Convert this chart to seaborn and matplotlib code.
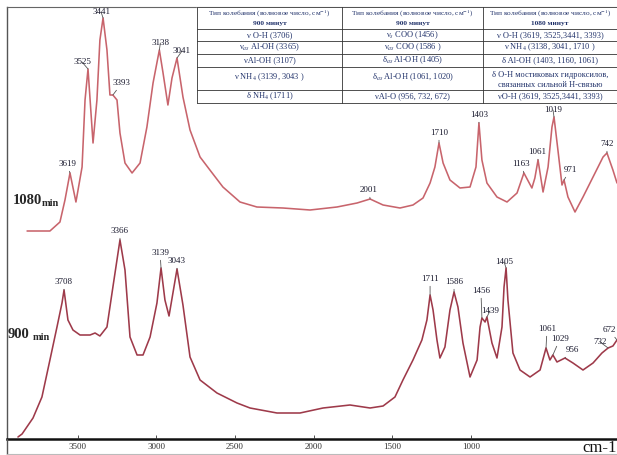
import numpy as np
import matplotlib
matplotlib.use('Agg')
import matplotlib.pyplot as plt
import seaborn as sns

# 1080 min trace (x = position on the spectrum axis, y = intensity, a.u.)
wn_1080 = [3850, 3727, 3673, 3646, 3619, 3587, 3554, 3538, 3522, 3495,
           3474, 3458, 3441, 3420, 3404, 3388, 3366, 3350, 3323, 3285,
           3242, 3205, 3172, 3138, 3119, 3092, 3070, 3043, 3011, 2973,
           2919, 2866, 2796, 2704, 2613, 2473, 2327, 2182, 2074, 2004,
           1934, 1843, 1773, 1719, 1681, 1655, 1633, 1611, 1574, 1520,
           1466, 1434, 1418, 1402, 1375, 1321, 1267, 1213, 1176, 1133,
           1117, 1100, 1073, 1046, 1025, 1014, 993, 971, 960, 939,
           901, 858, 804, 750, 729, 697, 675]
int_1080 = [208, 208, 217, 239, 266, 237, 272, 339, 370, 296,
            339, 399, 421, 389, 344, 344, 339, 306, 276, 266,
            276, 312, 356, 389, 367, 334, 361, 381, 342, 309,
            282, 269, 252, 237, 232, 231, 229, 232, 236, 240,
            234, 231, 234, 241, 256, 272, 296, 276, 259, 251,
            252, 272, 316, 279, 256, 242, 237, 246, 266, 251,
            261, 279, 247, 272, 312, 322, 289, 254, 259, 242,
            227, 242, 262, 282, 286, 269, 256]

# 900 min trace
wn_900 = [3899, 3877, 3818, 3770, 3727, 3689, 3662, 3651, 3630, 3603,
          3565, 3511, 3484, 3458, 3420, 3388, 3350, 3323, 3296, 3258,
          3226, 3188, 3151, 3129, 3108, 3086, 3043, 3011, 2973, 2919,
          2828, 2720, 2650, 2505, 2381, 2257, 2112, 2004, 1934, 1870,
          1827, 1773, 1725, 1698, 1681, 1665, 1644, 1628, 1601, 1574,
          1552, 1531, 1504, 1466, 1428, 1412, 1402, 1385, 1375, 1348,
          1321, 1294, 1283, 1272, 1262, 1235, 1197, 1143, 1089, 1057,
          1036, 1020, 998, 955, 912, 858, 804, 756, 723, 697, 675]
int_900 = [2, 5, 21, 42, 79, 112, 136, 149, 119, 109,
           104, 104, 106, 103, 112, 152, 199, 169, 102, 84,
           84, 102, 136, 171, 139, 123, 170, 134, 82, 59,
           46, 36, 31, 26, 26, 31, 34, 31, 33, 42,
           59, 79, 99, 119, 144, 129, 99, 81, 92, 129,
           147, 132, 96, 62, 79, 112, 121, 117, 122, 96,
           81, 112, 152, 171, 139, 86, 69, 62, 69, 91,
           79, 84, 77, 81, 76, 69, 76, 86, 91, 93, 99]

peaks_1080 = ["3619", "3525", "3441", "3393", "3138", "3041", "2001",
              "1710", "1403", "1163", "1061", "1019", "971", "742"]
peak_pos_1080 = [3619, 3522, 3441, 3388, 3138, 3043, 2004,
                 1633, 1418, 1176, 1100, 1014, 960, 729]
peaks_900 = ["3708", "3366", "3139", "3043", "1711", "1586", "1456",
             "1439", "1405", "1061", "1029", "956", "732", "672"]
peak_pos_900 = [3651, 3350, 3129, 3043, 1681, 1552, 1402,
                1375, 1272, 1057, 1020, 955, 723, 675]

tick_vals = [3500, 3000, 2500, 2000, 1500, 1000]

tbl_head = ["900 минут", "900 минут", "1080 минут"]
tbl_col1 = ["ν O-H (3706)", r"ν$_{as}$ Al-OH (3365)", "νAl-OH (3107)",
            r"ν NH$_4$ (3139, 3043 )", r"δ NH$_4$ (1711)"]
tbl_col2 = [r"ν$_s$ COO (1456)", r"ν$_{as}$ COO (1586 )", r"δ$_{as}$ Al-OH (1405)",
            r"δ$_{as}$ Al-OH (1061, 1020)", "νAl-O (956, 732, 672)"]
tbl_col3 = ["ν O-H (3619, 3525,3441, 3393)", r"ν NH$_4$ (3138, 3041, 1710 )",
            "δ Al-OH (1403, 1160, 1061)",
            "δ O-H мостиковых гидроксилов,\nсвязанных сильной Н-связью",
            "νO-H (3619, 3525,3441, 3393)"]

# label offsets in pixels (dx, dy)
off_1080 = [(-3, 9), (-6, 7), (-2, 6), (9, 12), (1, 7), (5, 7), (-1, 9),
            (0, 10), (0, 8), (-3, 9), (-1, 8), (-1, 7), (6, 10), (0, 9)]
off_900 = [(-1, 8), (0, 9), (-1, 15), (0, 8), (0, 16), (0, 10), (-1, 27),
           (3, 6), (-2, 6), (1, 19), (7, 16), (7, 8), (-8, 6), (-8, 10)]

sns.set_theme(style='white')
plt.rcParams['font.family'] = ['Liberation Serif', 'DejaVu Serif']
plt.rcParams['mathtext.fontset'] = 'stix'

W, H = 617, 455
fig = plt.figure(figsize=(W / 100, H / 100), dpi=100)
fig.patch.set_facecolor('white')

ax = fig.add_axes([7 / W, (H - 439) / H, 610 / W, 432 / H])
ax.set_facecolor('white')
sns.lineplot(x=wn_1080, y=int_1080, sort=False, estimator=None, ax=ax,
             color='#c8646c', lw=1.15)
sns.lineplot(x=wn_900, y=int_900, sort=False, estimator=None, ax=ax,
             color='#9e3a4a', lw=1.15)
ax.set_xlim(3958, 675)
ax.set_ylim(0, 432)
ax.set_xticks([])
ax.set_yticks([])
ax.set_xlabel('')
ax.set_ylabel('')
ax.spines['right'].set_visible(False)
ax.spines['left'].set_color('#555555')
ax.spines['left'].set_linewidth(1.0)
ax.spines['top'].set_color('#666666')
ax.spines['top'].set_linewidth(0.8)
ax.spines['bottom'].set_color('#111111')
ax.spines['bottom'].set_linewidth(1.8)


def label_peaks(names, pos, offs, wn, inten):
    xs = np.array(wn)[::-1]
    ys = np.array(inten)[::-1]
    for name, p, (dx, dy) in zip(names, pos, offs):
        yy = np.interp(p, xs, ys)
        ax.annotate(name, xy=(p, yy), xytext=(dx, dy), textcoords='offset pixels',
                    ha='center', va='center', fontsize=6.5, color='#1a1a2e',
                    annotation_clip=False,
                    arrowprops=dict(arrowstyle='-', lw=0.6, color='#555555',
                                    shrinkA=0, shrinkB=0))


label_peaks(peaks_1080, peak_pos_1080, off_1080, wn_1080, int_1080)
label_peaks(peaks_900, peak_pos_900, off_900, wn_900, int_900)

# scale printed under the frame
ax2 = ax.twiny()
ax2.set_xlim(3950, 71)
ax2.xaxis.set_ticks_position('bottom')
ax2.xaxis.set_label_position('bottom')
ax2.set_xticks(tick_vals)
ax2.set_xticklabels([str(t) for t in tick_vals])
ax2.tick_params(axis='x', direction='in', length=3, width=0.6, pad=3,
                labelsize=6.5, colors='#333333')
for s in ax2.spines.values():
    s.set_visible(False)

# overlay in pixel coordinates for the table and captions
ov = fig.add_axes([0, 0, 1, 1], zorder=5)
ov.set_xlim(0, W)
ov.set_ylim(H, 0)
ov.axis('off')
ov.patch.set_visible(False)

ov.plot([7, 7], [439, 455], color='#555555', lw=1.0)
ov.plot([7, W], [454, 454], color='#bbbbbb', lw=0.8)
ov.text(600, 448, 'cm-1', fontsize=12, ha='center', va='center', color='#111111')

ov.text(13, 201, '1080', fontsize=10.5, weight='bold', ha='left', va='center')
ov.text(42, 203, 'min', fontsize=7.5, weight='bold', ha='left', va='center')
ov.text(8, 335, '900', fontsize=10.5, weight='bold', ha='left', va='center')
ov.text(33, 337, 'min', fontsize=7.5, weight='bold', ha='left', va='center')

# table
rows_y = [7, 29, 41, 54, 67, 90, 103]
cols_x = [197, 342, 483, 622]
col_cx = [269.5, 412.5, 550]
ov.fill_between([cols_x[0], cols_x[-1]], rows_y[0], rows_y[-1], color='white', zorder=1)
for y in rows_y:
    ov.plot([cols_x[0], cols_x[-1]], [y, y], color='#333333', lw=0.6, zorder=2)
for x in cols_x[:-1]:
    ov.plot([x, x], [rows_y[0], rows_y[-1]], color='#333333', lw=0.6, zorder=2)

tc = '#22336b'
fs = 6.0
fs_head = 5.3
for j, (col, head) in enumerate(zip([tbl_col1, tbl_col2, tbl_col3], tbl_head)):
    cx = col_cx[j]
    ov.text(cx, 13.5, r'Тип колебания (волновое число, см$^{-1}$)', fontsize=fs_head,
            ha='center', va='center', color=tc, zorder=3)
    ov.text(cx, 23.5, head, fontsize=fs_head, weight='bold', ha='center', va='center',
            color=tc, zorder=3)
    for i, txt in enumerate(col):
        if i == 3:
            ov.text(cx, 71, txt, fontsize=fs, ha='center', va='top', color=tc,
                    linespacing=1.3, zorder=3)
        else:
            cy = (rows_y[i + 1] + rows_y[i + 2]) / 2
            ov.text(cx, cy, txt, fontsize=fs, ha='center', va='center',
                    color=tc, zorder=3)

fig.savefig('out.png', dpi=100)
